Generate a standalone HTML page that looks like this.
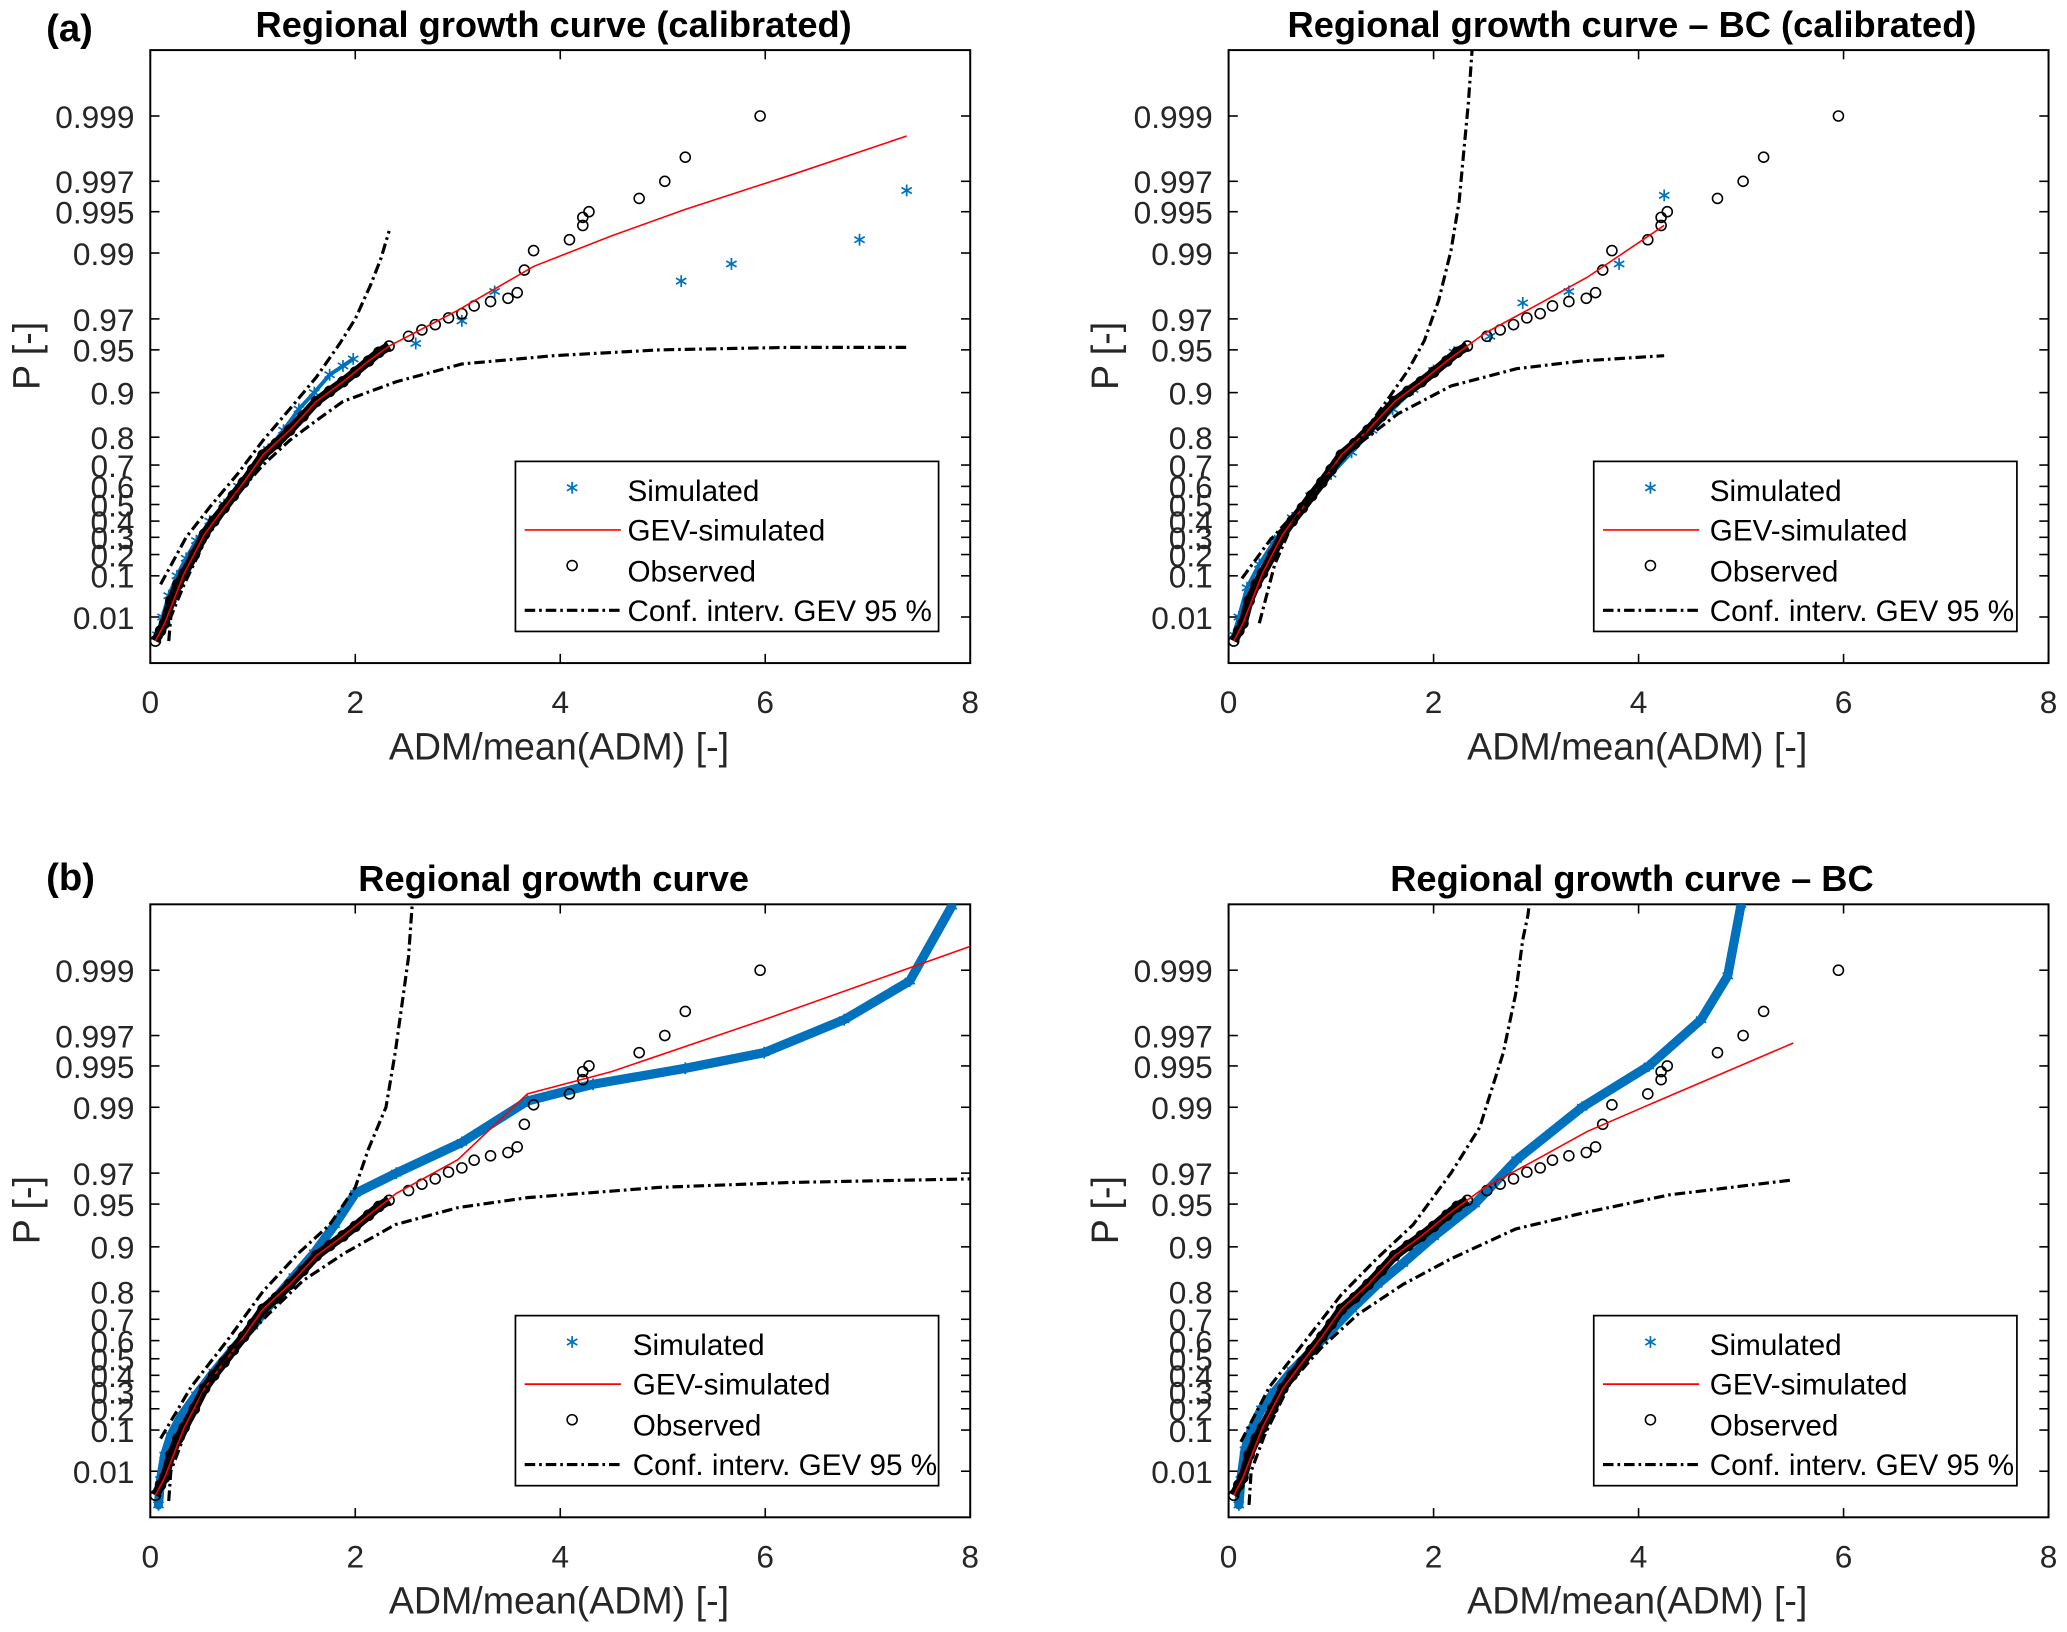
<!DOCTYPE html>
<html><head><meta charset="utf-8"><style>
html,body{margin:0;padding:0;background:#fff}
svg{display:block;font-family:"Liberation Sans",Arial,sans-serif}
</style></head><body>
<svg id="fig" width="2067" height="1632" viewBox="0 0 1568 1238" preserveAspectRatio="none" xmlns="http://www.w3.org/2000/svg">
<rect width="1568" height="1238" fill="#fff"/>
<text x="35" y="31" font-size="29" font-weight="bold">(a)</text>
<text x="35" y="675" font-size="29" font-weight="bold">(b)</text>
</svg>
<script>
// ---- shared data ----
const pTicks = [0.999,0.997,0.995,0.99,0.97,0.95,0.9,0.8,0.7,0.6,0.5,0.4,0.3,0.2,0.1,0.01];
const pTickLabels = ["0.999","0.997","0.995","0.99","0.97","0.95","0.9","0.8","0.7","0.6","0.5","0.4","0.3","0.2","0.1","0.01"];
const xTicks = [0,2,4,6,8];
const obsX = [0.05,0.1,0.14,0.2,0.27,0.33,0.43,0.53,0.62,0.72,0.81,0.91,1.0,1.1,1.23,1.36,1.49,1.62,1.75,1.88,2.0,2.13,2.23,2.33,2.52,2.65,2.78,2.91,3.04,3.16,3.32,3.49,3.58,3.65,3.74,4.09,4.22,4.22,4.28,4.77,5.02,5.22,5.95];
const obsP = [0.001,0.003,0.006,0.03,0.07,0.11,0.2,0.32,0.4,0.48,0.55,0.62,0.68,0.74,0.78,0.82,0.855,0.885,0.902,0.916,0.928,0.94,0.948,0.953,0.96,0.964,0.967,0.9705,0.9725,0.9758,0.9775,0.9787,0.9806,0.9867,0.9904,0.992,0.9937,0.9945,0.995,0.996,0.997,0.998,0.999];
const obsDenseCount = 24;

// panel a-left
const aL_simX = [0.07,0.12,0.18,0.26,0.35,0.45,0.58,0.72,0.86,1.0,1.15,1.3,1.45,1.6,1.75,1.88,1.98,2.59,3.04,3.36,5.18,5.67,6.92,7.38];
const aL_simP = [0.002,0.01,0.04,0.1,0.18,0.28,0.4,0.5,0.6,0.68,0.76,0.82,0.87,0.9,0.925,0.935,0.942,0.955,0.969,0.981,0.984,0.988,0.992,0.9965];
const aL_gevX = [0.05,0.14,0.33,0.53,0.72,0.91,1.1,1.36,1.62,1.88,2.13,2.33,3.0,3.74,4.5,5.22,6.25,7.38];
const aL_gevP = [0.001,0.006,0.11,0.32,0.48,0.62,0.74,0.82,0.885,0.916,0.94,0.953,0.974,0.9875,0.9925,0.9952,0.9973,0.9986];
const aL_upX = [0.1,0.35,0.6,0.85,1.1,1.36,1.62,1.85,2.0,2.15,2.25,2.33];
const aL_upP = [0.07,0.3,0.5,0.66,0.79,0.87,0.922,0.955,0.97,0.983,0.989,0.9931];
const aL_loX = [0.18,0.2,0.33,0.55,0.85,1.1,1.36,1.62,1.88,2.4,3.04,3.94,4.97,6.25,7.38];
const aL_loP = [0.001,0.01,0.07,0.3,0.56,0.7,0.79,0.845,0.885,0.916,0.937,0.945,0.95,0.952,0.952];

// panel a-right
const aR_simX = [0.05,0.1,0.18,0.3,0.45,0.62,0.8,1.0,1.2,1.4,1.6,1.8,2.0,2.2,2.55,2.87,3.32,3.81,4.25];
const aR_simP = [0.002,0.01,0.06,0.15,0.28,0.42,0.55,0.66,0.75,0.82,0.87,0.905,0.93,0.948,0.96,0.977,0.981,0.988,0.9962];
const aR_gevX = [0.05,0.14,0.33,0.53,0.72,0.91,1.1,1.36,1.62,1.88,2.13,2.5,3.0,3.5,4.25];
const aR_gevP = [0.001,0.006,0.11,0.32,0.48,0.62,0.74,0.82,0.885,0.916,0.94,0.962,0.976,0.985,0.9937];
const aR_upX = [0.13,0.4,0.65,0.88,1.2,1.52,1.75,1.91,2.05,2.17,2.25,2.29,2.34,2.38];
const aR_upP = [0.09,0.28,0.45,0.6,0.76,0.88,0.93,0.957,0.978,0.9904,0.9958,0.998,0.9992,0.9997];
const aR_loX = [0.3,0.45,0.62,0.85,1.13,1.4,1.65,2.17,2.81,3.45,4.25];
const aR_loP = [0.006,0.15,0.38,0.58,0.74,0.81,0.86,0.91,0.932,0.94,0.945];

// panel b-left
const bL_simX = [0.08,0.1,0.14,0.2,0.3,0.45,0.62,0.8,1.0,1.2,1.4,1.6,1.8,2.0,2.4,3.04,3.68,4.32,5.22,5.99,6.77,7.41,7.82];
const bL_simP = [0.0003,0.005,0.03,0.08,0.16,0.28,0.42,0.55,0.67,0.77,0.84,0.89,0.93,0.958,0.97,0.982,0.991,0.9932,0.9948,0.996,0.9977,0.9988,0.99966];
const bL_gevX = [0.05,0.14,0.33,0.53,0.72,0.91,1.1,1.36,1.62,1.88,2.13,2.4,3.0,3.68,4.5,5.99,8.0];
const bL_gevP = [0.001,0.006,0.11,0.32,0.48,0.62,0.74,0.82,0.885,0.916,0.94,0.958,0.976,0.992,0.9945,0.9977,0.99933];
const bL_upX = [0.1,0.4,0.75,1.1,1.45,1.75,2.0,2.13,2.3,2.39,2.47,2.52,2.56];
const bL_upP = [0.07,0.33,0.6,0.8,0.89,0.93,0.962,0.98,0.99,0.996,0.9985,0.9992,0.9997];
const bL_loX = [0.18,0.2,0.33,0.55,0.85,1.15,1.49,1.9,2.39,3.0,3.68,4.97,6.25,8.0];
const bL_loP = [0.0005,0.01,0.08,0.33,0.57,0.72,0.83,0.89,0.93,0.947,0.955,0.962,0.965,0.967];

// panel b-right
const bR_simX = [0.1,0.12,0.16,0.22,0.32,0.45,0.62,0.8,1.0,1.2,1.45,1.7,2.0,2.4,2.81,3.45,4.1,4.61,4.87,5.0];
const bR_simP = [0.0003,0.005,0.04,0.1,0.2,0.3,0.43,0.54,0.65,0.74,0.82,0.87,0.915,0.95,0.976,0.99,0.995,0.9977,0.9989,0.99967];
const bR_gevX = [0.05,0.14,0.33,0.53,0.72,0.91,1.1,1.36,1.62,1.88,2.13,2.5,3.0,3.5,4.1,5.51];
const bR_gevP = [0.001,0.006,0.11,0.32,0.48,0.62,0.74,0.82,0.885,0.916,0.94,0.962,0.976,0.985,0.9904,0.9966];
const bR_upX = [0.12,0.4,0.75,1.1,1.45,1.8,2.17,2.45,2.68,2.8,2.87,2.92,2.94];
const bR_upP = [0.06,0.33,0.6,0.79,0.88,0.93,0.97,0.986,0.996,0.9985,0.9994,0.9996,0.9997];
const bR_loX = [0.2,0.22,0.35,0.6,0.9,1.26,1.7,2.17,2.8,3.45,4.3,5.51];
const bR_loP = [0.0003,0.01,0.08,0.35,0.56,0.72,0.82,0.879,0.925,0.942,0.957,0.9665];

const SVGNS = "http://www.w3.org/2000/svg";
const fig = document.getElementById('fig');
function mk(tag, attrs, parent){
  const e = document.createElementNS(SVGNS, tag);
  for (const k in attrs) e.setAttribute(k, attrs[k]);
  (parent||fig).appendChild(e);
  return e;
}
const Y999 = 50, YSLOPE = 45.06, RED999 = 6.907;
function red(p){ return -Math.log(-Math.log(p)); }
function star(cx, cy, parent){
  const s = mk('g', {stroke: '#0072BD', 'stroke-width': 1.3}, parent);
  const r = 4.5;
  mk('line', {x1: cx, x2: cx, y1: cy - r, y2: cy + r}, s);
  mk('line', {x1: cx - r * 0.87, x2: cx + r * 0.87, y1: cy - r / 2, y2: cy + r / 2}, s);
  mk('line', {x1: cx - r * 0.87, x2: cx + r * 0.87, y1: cy + r / 2, y2: cy - r / 2}, s);
  return s;
}

function panel(opt){
  const L = opt.left, R = opt.left + 622, T = opt.top, B = opt.top + 465;
  const xs = v => L + v * (R - L) / 8;
  const ys = p => T + Y999 + (RED999 - red(p)) * YSLOPE;
  const g = mk('g', {});
  
  
  const clipId = opt.name + '-clip';
  const cp = mk('clipPath', {id: clipId}, g);
  mk('rect', {x: L, y: T, width: R - L, height: B - T}, cp);
  const frame = mk('rect', {x: L, y: T, width: R - L, height: B - T, fill: 'none', stroke: '#000', 'stroke-width': 1.5}, g);
  
  
  pTicks.forEach((p, i) => {
    const y = ys(p);
    mk('line', {x1: L, x2: L + 7, y1: y, y2: y, stroke: '#000', 'stroke-width': 1.2}, g);
    mk('line', {x1: R, x2: R - 7, y1: y, y2: y, stroke: '#000', 'stroke-width': 1.2}, g);
    const t = mk('text', {x: L - 12, y: y + 9, 'font-size': 24, 'text-anchor': 'end', fill: '#262626'}, g);
    t.textContent = pTickLabels[i];
    
    
  });
  xTicks.forEach(v => {
    const x = xs(v);
    mk('line', {x1: x, x2: x, y1: B, y2: B - 7, stroke: '#000', 'stroke-width': 1.2}, g);
    mk('line', {x1: x, x2: x, y1: T, y2: T + 7, stroke: '#000', 'stroke-width': 1.2}, g);
    const t = mk('text', {x: x, y: B + 38, 'font-size': 24, 'text-anchor': 'middle', fill: '#262626'}, g);
    t.textContent = String(v);
    
    
  });
  const title = mk('text', {x: (L + R) / 2 - 5, y: T - 10, 'font-size': 27.5, 'font-weight': 'bold', 'text-anchor': 'middle'}, g);
  title.textContent = opt.title;
  
  
  const xl = mk('text', {x: (L + R) / 2 - 1, y: B + 73, 'font-size': 28.5, 'text-anchor': 'middle', fill: '#262626'}, g);
  xl.textContent = 'ADM/mean(ADM) [-]';
  
  
  const yl = mk('text', {x: 0, y: 0, 'font-size': 28.5, 'text-anchor': 'middle', fill: '#262626', transform: `translate(${L - 84},${T + 232}) rotate(-90)`}, g);
  yl.textContent = 'P [-]';
  
  

  const data = mk('g', {'clip-path': `url(#${clipId})`}, g);
  const pts = (X, P) => X.map((v, i) => xs(v).toFixed(1) + ',' + ys(P[i]).toFixed(1)).join(' ');
  const simLine = mk('polyline', {points: pts(opt.simX.slice(0, opt.simDense), opt.simP.slice(0, opt.simDense)), fill: 'none', stroke: '#0072BD', 'stroke-width': opt.simW, 'stroke-linejoin': 'round', 'stroke-linecap': 'round'}, data);
  
  
  opt.simX.forEach((v, i) => {
    const s = star(xs(v), ys(opt.simP[i]), data);
    
    
  });
  const obsLine = mk('polyline', {points: pts(obsX.slice(0, obsDenseCount), obsP.slice(0, obsDenseCount)), fill: 'none', stroke: '#000', 'stroke-width': 7, 'stroke-linejoin': 'round'}, data);
  
  
  obsX.forEach((v, i) => {
    const c = mk('circle', {cx: xs(v), cy: ys(obsP[i]), r: 3.8, fill: 'none', stroke: '#000', 'stroke-width': 1.2}, data);
    
    
  });
  const gev = mk('polyline', {points: pts(opt.gevX, opt.gevP), fill: 'none', stroke: '#ff0000', 'stroke-width': 1.2}, data);
  
  
  const up = mk('polyline', {points: pts(opt.upX, opt.upP), fill: 'none', stroke: '#000', 'stroke-width': 2.4, 'stroke-dasharray': '8,3,2,3'}, data);
  
  
  const lo = mk('polyline', {points: pts(opt.loX, opt.loP), fill: 'none', stroke: '#000', 'stroke-width': 2.4, 'stroke-dasharray': '8,3,2,3'}, data);
  
  

  const lx = L + 277, ly = T + opt.legOff, lw = 321, lh = 129;
  const leg = mk('g', {}, g);
  
  
  mk('rect', {x: lx, y: ly, width: lw, height: lh, fill: '#fff', stroke: '#000', 'stroke-width': 1.3}, leg);
  const tx = lx + opt.legText;
  const rows = [['Simulated', 22], ['GEV-simulated', 52], ['Observed', 83], ['Conf. interv. GEV 95 %', 113]];
  rows.forEach((r, i) => {
    const yy = ly + r[1];
    if (i === 0) star(lx + 43, yy - 2, leg);
    if (i === 1) mk('line', {x1: lx + 7, x2: lx + 80, y1: yy, y2: yy, stroke: '#ff0000', 'stroke-width': 1.3}, leg);
    if (i === 2) mk('circle', {cx: lx + 43, cy: yy - 4, r: 3.8, fill: 'none', stroke: '#000', 'stroke-width': 1.2}, leg);
    if (i === 3) mk('line', {x1: lx + 7, x2: lx + 80, y1: yy, y2: yy, stroke: '#000', 'stroke-width': 2.4, 'stroke-dasharray': '8,3,2,3'}, leg);
    const t = mk('text', {x: tx, y: yy + 8, 'font-size': 22.5, fill: '#000'}, leg);
    t.textContent = r[0];
    
    
  });
}

panel({name: 'panel-a-left', left: 114, top: 38, title: 'Regional growth curve (calibrated)', simX: aL_simX, simP: aL_simP, simDense: 17, simW: 3, gevX: aL_gevX, gevP: aL_gevP, upX: aL_upX, upP: aL_upP, loX: aL_loX, loP: aL_loP, legOff: 312, legText: 85});
panel({name: 'panel-a-right', left: 932, top: 38, title: 'Regional growth curve \u2013 BC (calibrated)', simX: aR_simX, simP: aR_simP, simDense: 14, simW: 3, gevX: aR_gevX, gevP: aR_gevP, upX: aR_upX, upP: aR_upP, loX: aR_loX, loP: aR_loP, legOff: 312, legText: 88});
panel({name: 'panel-b-left', left: 114, top: 686, title: 'Regional growth curve', simX: bL_simX, simP: bL_simP, simDense: 23, simW: 7, gevX: bL_gevX, gevP: bL_gevP, upX: bL_upX, upP: bL_upP, loX: bL_loX, loP: bL_loP, legOff: 312, legText: 89});
panel({name: 'panel-b-right', left: 932, top: 686, title: 'Regional growth curve \u2013 BC', simX: bR_simX, simP: bR_simP, simDense: 20, simW: 7, gevX: bR_gevX, gevP: bR_gevP, upX: bR_upX, upP: bR_upP, loX: bR_loX, loP: bR_loP, legOff: 312, legText: 88});
</script>
</body></html>
